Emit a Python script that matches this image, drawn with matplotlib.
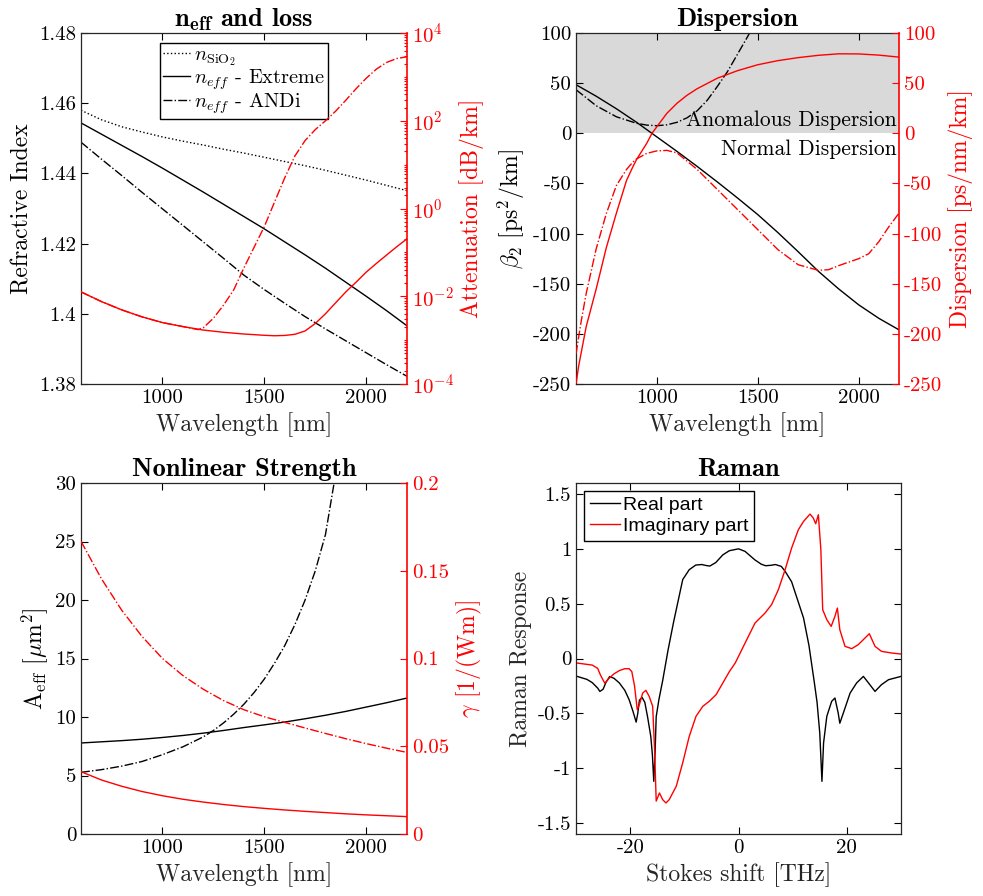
import matplotlib
matplotlib.use('Agg')
import matplotlib.pyplot as plt
from matplotlib.ticker import FuncFormatter, LogLocator, NullFormatter

plt.rcParams['font.family'] = 'cmr10'
plt.rcParams['mathtext.fontset'] = 'cm'
plt.rcParams['axes.unicode_minus'] = False
plt.rcParams['axes.formatter.use_mathtext'] = True

# ---- n_eff and loss ----
wl = [600, 700, 800, 900, 1000, 1100, 1200, 1300, 1400, 1500, 1600, 1700, 1800, 1900, 2000, 2100, 2200]
n_sio2 = [1.4580, 1.4553, 1.4533, 1.4518, 1.4504, 1.4492, 1.4481, 1.4469, 1.4458, 1.4446,
          1.4434, 1.4422, 1.4409, 1.4395, 1.4381, 1.4366, 1.4351]
n_extreme = [1.4544, 1.4512, 1.4480, 1.4448, 1.4415, 1.4381, 1.4347, 1.4312, 1.4277, 1.4242,
             1.4205, 1.4168, 1.4130, 1.4090, 1.4050, 1.4009, 1.3966]
n_andi = [1.4489, 1.4441, 1.4394, 1.4346, 1.4299, 1.4252, 1.4205, 1.4158, 1.4110, 1.4069,
          1.4030, 1.3992, 1.3957, 1.3923, 1.3889, 1.3855, 1.3822]

wl_loss = [600, 700, 800, 900, 1000, 1100, 1200, 1300, 1400, 1500, 1550, 1600, 1650, 1700,
           1750, 1800, 1850, 1900, 1950, 2000, 2050, 2100, 2150, 2200]
loss_extreme = [0.0126, 0.00759, 0.0049, 0.00339, 0.00251, 0.00204, 0.0017, 0.00151, 0.00138,
                0.00129, 0.00126, 0.00128, 0.00136, 0.00162, 0.0024, 0.0040, 0.0071, 0.0126,
                0.0209, 0.0355, 0.0562, 0.0871, 0.135, 0.204]
wl_loss_andi = [600, 700, 800, 900, 1000, 1100, 1175, 1200, 1250, 1300, 1350, 1400, 1450, 1500,
                1550, 1600, 1650, 1700, 1750, 1800, 1850, 1900, 1950, 2000, 2050, 2100, 2150, 2200]
loss_andi = [0.0126, 0.00759, 0.0049, 0.00339, 0.00251, 0.00204, 0.00174, 0.00191, 0.00316,
             0.00631, 0.0141, 0.0447, 0.132, 0.389, 1.41, 5.01, 15.8, 35.5, 63.1, 100, 166,
             295, 537, 933, 1510, 2140, 2630, 2880]

# ---- dispersion ----
beta2_extreme = [48.5, 37, 24.5, 11, -3.5, -18, -33, -48.5, -64.5, -81, -99, -118, -137.5,
                 -155, -171, -184.5, -196]
wl_b2_andi = [600, 700, 800, 900, 950, 1000, 1050, 1100, 1150, 1200, 1250, 1300, 1350, 1400,
              1450, 1500]
beta2_andi = [43.5, 27.5, 16.5, 10, 8.2, 7.6, 8.5, 11, 15.5, 22.5, 33, 46.8, 61.5, 79, 96.5, 115]

wl_d = [600, 613, 650, 700, 750, 800, 850, 880, 900, 950, 976, 1000, 1050, 1100, 1150, 1200,
        1300, 1400, 1500, 1600, 1700, 1800, 1900, 2000, 2100, 2200]
d_extreme = [-250, -232, -193, -155, -114, -79.5, -47, -34, -26, -10, 0, 6.5, 20, 30, 38, 44.5,
             55, 62.5, 68.4, 72.5, 75.5, 77.8, 79.3, 79.2, 78, 76]
wl_d_andi = [600, 625, 650, 700, 750, 800, 850, 880, 900, 950, 1000, 1050, 1100, 1200, 1300,
             1400, 1500, 1600, 1700, 1800, 1850, 1900, 2000, 2050, 2100, 2150, 2200]
d_andi = [-220, -188, -160, -115, -80, -52, -36, -29, -25.5, -20, -17.5, -17, -19.5, -36, -56,
          -76, -96, -116, -131, -136.6, -136, -132, -125, -120, -108, -93, -79.5]

# ---- nonlinear strength ----
aeff_extreme = [7.78, 7.88, 7.98, 8.10, 8.25, 8.42, 8.62, 8.85, 9.10, 9.33, 9.57, 9.85, 10.15,
                10.48, 10.85, 11.22, 11.62]
wl_aeff_andi = [600, 700, 800, 900, 1000, 1100, 1200, 1250, 1300, 1350, 1400, 1450, 1500, 1550,
                1600, 1650, 1700, 1750, 1800, 1850]
aeff_andi = [5.27, 5.5, 5.8, 6.2, 6.78, 7.45, 8.3, 8.85, 9.5, 10.25, 11.1, 12.1, 13.25, 14.6,
             16.1, 17.9, 20.0, 22.5, 25.6, 30.8]
gamma_extreme = [0.0355, 0.0308, 0.0272, 0.0242, 0.0218, 0.0198, 0.0182, 0.0168, 0.0156, 0.0146,
                 0.0137, 0.0129, 0.0122, 0.0115, 0.0109, 0.0104, 0.0099]
gamma_andi = [0.1668, 0.1455, 0.1275, 0.1125, 0.1000, 0.0903, 0.0825, 0.0760, 0.0708, 0.0668,
              0.0636, 0.0604, 0.0573, 0.0543, 0.0515, 0.0489, 0.0465]

# ---- Raman ----
shift_re = [-30, -28, -27, -26, -25.6, -25, -24.5, -23.8, -23, -22, -21, -20.2, -19.5, -18.9,
            -18.6, -18.3, -17.8, -17.3, -16.8, -16.2, -15.9, -15.65, -15.4, -15.2, -14.7, -14,
            -13, -12, -11, -10.3, -9.1, -7.9, -6.8, -6.0, -5.3, -4.2, -2.9, -1.7, 0, 1.2, 3.0,
            4.2, 5.0, 6.0, 6.8, 7.9, 8.6, 9.8, 11.0, 12.0, 13.0, 14.0, 14.5, 15.0, 15.4, 15.7,
            16.3, 17.2, 17.8, 18.4, 18.7, 19.35, 20.6, 21.8, 23.05, 24.0, 25.2, 26.4, 27.7, 30]
raman_re = [-0.16, -0.19, -0.22, -0.27, -0.30, -0.28, -0.22, -0.165, -0.18, -0.223, -0.29,
            -0.375, -0.48, -0.58, -0.50, -0.38, -0.355, -0.40, -0.53, -0.71, -0.88, -1.12, -0.85,
            -0.53, -0.375, -0.2, 0.08, 0.33, 0.56, 0.72, 0.81, 0.852, 0.857, 0.848, 0.843, 0.875,
            0.945, 0.983, 1.0, 0.977, 0.90, 0.86, 0.846, 0.85, 0.857, 0.84, 0.795, 0.70, 0.52,
            0.37, 0.12, -0.22, -0.40, -0.68, -1.12, -0.77, -0.527, -0.39, -0.36, -0.497, -0.59,
            -0.497, -0.315, -0.223, -0.163, -0.223, -0.30, -0.238, -0.193, -0.163]
shift_im = [-30, -27, -26, -25.5, -24.7, -24, -23, -22, -21, -20.2, -19.7, -19.2, -18.7, -18.3,
            -17.7, -17.1, -16.5, -15.85, -15.5, -15.2, -14.6, -14.0, -13.4, -12.8, -11.5, -10.3,
            -9.1, -7.85, -6.6, -5.4, -4.15, -2.9, -1.7, -0.6, 0, 1.2, 3.05, 4.9, 6.1, 7.35, 8.6,
            9.8, 11.05, 12.0, 13.2, 13.8, 14.25, 14.74, 15.2, 15.54, 16.3, 17.1, 17.8, 18.25,
            18.7, 19.66, 20.9, 22.1, 23.35, 24.15, 25.2, 26.4, 28.3, 30]
raman_im = [-0.04, -0.06, -0.09, -0.15, -0.225, -0.185, -0.14, -0.11, -0.093, -0.093, -0.12,
            -0.25, -0.466, -0.42, -0.315, -0.29, -0.345, -0.436, -0.83, -1.30, -1.226, -1.287,
            -1.317, -1.287, -1.165, -0.95, -0.71, -0.527, -0.436, -0.39, -0.33, -0.223, -0.12,
            -0.04, 0.02, 0.14, 0.324, 0.415, 0.491, 0.627, 0.81, 1.007, 1.175, 1.25, 1.317, 1.281,
            1.229, 1.311, 0.992, 0.445, 0.354, 0.293, 0.384, 0.46, 0.263, 0.111, 0.09, 0.126,
            0.187, 0.226, 0.111, 0.065, 0.05, 0.041]

RED = '#ff0000'
EDGE = '#262626'
fmt = FuncFormatter(lambda v, p: '%g' % v)
TICK = 15
LAB = 17
TITLE = 19


def style_left(ax):
    ax.tick_params(direction='in', length=5, width=0.8, labelsize=TICK, colors='k', top=True,
                   right=False)
    for s in ['left', 'top', 'bottom']:
        ax.spines[s].set_color(EDGE)
        ax.spines[s].set_linewidth(0.9)
    ax.spines['right'].set_visible(False)
    ax.xaxis.set_major_formatter(fmt)
    ax.yaxis.set_major_formatter(fmt)


def style_right(ax):
    for s in ['left', 'top', 'bottom']:
        ax.spines[s].set_visible(False)
    ax.spines['right'].set_color(RED)
    ax.spines['right'].set_linewidth(1.2)
    ax.tick_params(axis='y', which='both', direction='in', colors=RED, labelsize=TICK, width=0.8)
    ax.tick_params(axis='y', which='major', length=5)
    ax.tick_params(axis='y', which='minor', length=2.5)


fig = plt.figure(figsize=(9.83, 8.96), dpi=100)

# n_eff and loss
ax1 = fig.add_axes([0.0824, 0.5714, 0.3316, 0.3917])
ax1.plot(wl, n_sio2, ':', color='k', lw=1, label=r'$n_{\mathrm{SiO_2}}$')
ax1.plot(wl, n_extreme, '-', color='k', lw=1, label=r'$n_{eff}$ - Extreme')
ax1.plot(wl, n_andi, '-.', color='k', lw=1, label=r'$n_{eff}$ - ANDi')
ax1.set_xlim(600, 2200)
ax1.set_ylim(1.38, 1.48)
ax1.set_xticks([1000, 1500, 2000])
ax1.set_yticks([1.38, 1.40, 1.42, 1.44, 1.46, 1.48])
style_left(ax1)
ax1.set_xlabel('Wavelength [nm]', fontsize=LAB, color=EDGE)
ax1.set_ylabel('Refractive Index', fontsize=LAB)
ax1.set_title(r'$\mathbf{n}_{\mathbf{eff}}$ and loss', fontfamily='cmb10', fontsize=TITLE, pad=5)
leg = ax1.legend(loc='upper center', prop={'family': 'cmr10', 'size': 14.6}, fancybox=False,
                 edgecolor='k', framealpha=1, handlelength=1.35, handletextpad=0.2,
                 labelspacing=-0.05, borderpad=0.15, borderaxespad=0.5)
leg.get_frame().set_linewidth(1.0)

ax1r = ax1.twinx()
ax1r.semilogy(wl_loss, loss_extreme, '-', color=RED, lw=1)
ax1r.semilogy(wl_loss_andi, loss_andi, '-.', color=RED, lw=1)
ax1r.set_ylim(1e-4, 1e4)
ax1r.yaxis.set_major_locator(LogLocator(base=100, numticks=10))
ax1r.yaxis.set_minor_locator(LogLocator(base=10, subs=[1, 2, 3, 4, 5, 6, 7, 8, 9], numticks=40))
ax1r.yaxis.set_minor_formatter(NullFormatter())
style_right(ax1r)
ax1r.set_ylabel('Attenuation [dB/km]', fontsize=LAB, color=RED)

# dispersion
ax2 = fig.add_axes([0.586, 0.5714, 0.3286, 0.3917])
ax2.axhspan(0, 100, color='#d9d9d9', zorder=0, lw=0)
ax2.plot(wl, beta2_extreme, '-', color='k', lw=1)
ax2.plot(wl_b2_andi, beta2_andi, '-.', color='k', lw=1)
ax2.set_xlim(600, 2200)
ax2.set_ylim(-250, 100)
ax2.set_xticks([1000, 1500, 2000])
ax2.set_yticks(range(-250, 101, 50))
style_left(ax2)
ax2.text(2188, 3, 'Anomalous Dispersion', ha='right', va='bottom', fontsize=15.5)
ax2.text(2188, -6, 'Normal Dispersion', ha='right', va='top', fontsize=15.5)
ax2.set_xlabel('Wavelength [nm]', fontsize=LAB, color=EDGE)
ax2.set_ylabel(r'$\beta_2$ [ps$^2$/km]', fontsize=LAB)
ax2.set_title('Dispersion', fontfamily='cmb10', fontsize=TITLE, pad=5)

ax2r = ax2.twinx()
ax2r.plot(wl_d, d_extreme, '-', color=RED, lw=1)
ax2r.plot(wl_d_andi, d_andi, '-.', color=RED, lw=1)
ax2r.set_ylim(-250, 100)
ax2r.set_yticks(range(-250, 101, 50))
ax2r.yaxis.set_major_formatter(fmt)
style_right(ax2r)
ax2r.set_ylabel('Dispersion [ps/nm/km]', fontsize=LAB, color=RED)

# nonlinear strength
ax3 = fig.add_axes([0.0824, 0.0692, 0.3316, 0.3917])
ax3.plot(wl, aeff_extreme, '-', color='k', lw=1)
ax3.plot(wl_aeff_andi, aeff_andi, '-.', color='k', lw=1)
ax3.set_xlim(600, 2200)
ax3.set_ylim(0, 30)
ax3.set_xticks([1000, 1500, 2000])
ax3.set_yticks(range(0, 31, 5))
style_left(ax3)
ax3.set_xlabel('Wavelength [nm]', fontsize=LAB, color=EDGE)
ax3.set_ylabel(r'$\mathrm{A_{eff}}$ [$\mu$m$^2$]', fontsize=LAB)
ax3.set_title('Nonlinear Strength', fontfamily='cmb10', fontsize=TITLE, pad=5)

ax3r = ax3.twinx()
ax3r.plot(wl, gamma_extreme, '-', color=RED, lw=1)
ax3r.plot(wl, gamma_andi, '-.', color=RED, lw=1)
ax3r.set_ylim(0, 0.2)
ax3r.set_yticks([0, 0.05, 0.1, 0.15, 0.2])
ax3r.yaxis.set_major_formatter(fmt)
style_right(ax3r)
ax3r.set_ylabel(r'$\gamma$ [1/(Wm)]', fontsize=LAB, color=RED)

# Raman
ax4 = fig.add_axes([0.586, 0.0692, 0.3306, 0.3917])
ax4.plot(shift_re, raman_re, '-', color='k', lw=1, label='Real part')
ax4.plot(shift_im, raman_im, '-', color=RED, lw=1, label='Imaginary part')
ax4.set_xlim(-30, 30)
ax4.set_ylim(-1.6, 1.6)
ax4.set_xticks([-20, 0, 20])
ax4.set_yticks([-1.5, -1, -0.5, 0, 0.5, 1, 1.5])
style_left(ax4)
ax4.tick_params(right=True)
ax4.spines['right'].set_visible(True)
ax4.spines['right'].set_color(EDGE)
ax4.spines['right'].set_linewidth(0.9)
ax4.set_xlabel('Stokes shift [THz]', fontsize=LAB, color=EDGE)
ax4.set_ylabel('Raman Response', fontsize=LAB, color=EDGE)
ax4.set_title('Raman', fontfamily='cmb10', fontsize=TITLE, pad=5)
leg4 = ax4.legend(loc='upper left', prop={'family': 'Liberation Sans', 'size': 14},
                  fancybox=False, edgecolor='k', framealpha=1, handlelength=1.55,
                  handletextpad=0.15, labelspacing=0.15, borderpad=0.3, borderaxespad=0.4)
leg4.get_frame().set_linewidth(1.0)

fig.savefig('out.png', dpi=100)
